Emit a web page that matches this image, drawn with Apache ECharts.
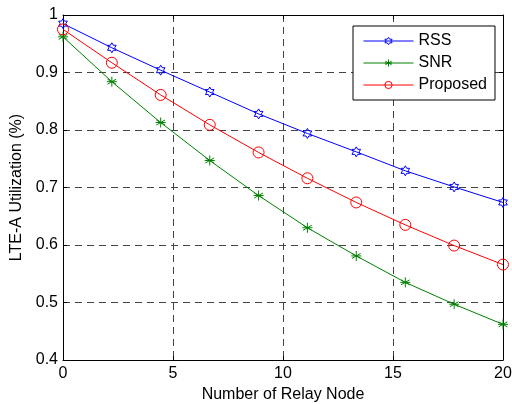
<!DOCTYPE html>
<html><head><meta charset="utf-8">
<script src="https://cdn.jsdelivr.net/npm/echarts@6/dist/echarts.min.js"></script>
<style>html,body{margin:0;padding:0;background:#fff}#c{width:512px;height:404px}</style>
</head><body><div id="c"></div>
<script>
const relayNodes = [0, 2.22, 4.44, 6.67, 8.89, 11.11, 13.33, 15.56, 17.78, 20];
const rss =      [0.985, 0.943, 0.904, 0.866, 0.828, 0.794, 0.762, 0.729, 0.701, 0.674];
const snr =      [0.962, 0.884, 0.813, 0.747, 0.686, 0.630, 0.581, 0.535, 0.497, 0.462];
const proposed = [0.975, 0.917, 0.861, 0.809, 0.761, 0.716, 0.674, 0.635, 0.599, 0.566];
const seriesNames = ['RSS', 'SNR', 'Proposed'];

const hexagram = 'path://M0,-10L2.89,-5L8.66,-5L5.77,0L8.66,5L2.89,5L0,10L-2.89,5L-8.66,5L-5.77,0L-8.66,-5L-2.89,-5Z';
const asterisk = 'path://M0,-10L0,10M-8.66,-5L8.66,5M-8.66,5L8.66,-5M-10,0L10,0';
const font = 'Liberation Sans, Arial, sans-serif';
const fs = 16;

function pairs(ys){ return relayNodes.map((x,i)=>[x, ys[i]]); }
function mk(name, ys, color, symbol, size){
  return {
    name, type:'line', data: pairs(ys), symbol, symbolSize: size, symbolKeepAspect: true,
    showAllSymbol: true,
    lineStyle:{color, width:1},
    itemStyle:{color:'rgba(255,255,255,0)', borderColor: color, borderWidth:1},
    emphasis:{disabled:true}, animation:false, z: 3
  };
}
const gridLine = {show:true, lineStyle:{color:'#444', type:[7,5], width:1}};
const chart = echarts.init(document.getElementById('c'));
chart.setOption({
  backgroundColor:'#fff',
  animation:false,
  grid:{left:63, right:9, top:15, bottom:44, containLabel:false, outerBoundsMode:'none'},
  legend:{
    data: seriesNames,
    orient:'vertical', left:353, top:26,
    padding:[7,8,7,10], itemWidth:50, itemHeight:9, itemGap:6,
    borderColor:'#000', borderWidth:1, backgroundColor:'#fff',
    lineStyle:{width:1},
    itemStyle:{color:'rgba(255,255,255,0)', borderWidth:1},
    textStyle:{fontFamily:font, fontSize:fs, color:'#000'},
    selectedMode:false
  },
  xAxis:[{
    type:'value', min:0, max:20, interval:5,
    name:'Number of Relay Node', nameLocation:'middle', nameGap:26,
    nameTextStyle:{fontFamily:font, fontSize:fs, color:'#000'},
    axisLine:{show:true, onZero:false, lineStyle:{color:'#000', width:1}},
    axisTick:{show:true, inside:true, length:4, lineStyle:{color:'#000'}},
    axisLabel:{fontFamily:font, fontSize:fs, color:'#000', margin:6},
    splitLine: gridLine
  },{
    type:'value', min:0, max:20, interval:5, position:'top',
    axisLine:{show:true, onZero:false, lineStyle:{color:'#000', width:1}},
    axisTick:{show:true, inside:true, length:4, lineStyle:{color:'#000'}},
    axisLabel:{show:false}, splitLine:{show:false}
  }],
  yAxis:[{
    type:'value', min:0.4, max:1, interval:0.1,
    name:'LTE-A Utilization (%)', nameLocation:'middle', nameGap:35,
    nameTextStyle:{fontFamily:font, fontSize:fs, color:'#000'},
    axisLine:{show:true, onZero:false, lineStyle:{color:'#000', width:1}},
    axisTick:{show:true, inside:true, length:4, lineStyle:{color:'#000'}},
    axisLabel:{fontFamily:font, fontSize:fs, color:'#000', margin:5,
      formatter: v => (Math.round(v*10)/10).toString()},
    splitLine: gridLine
  },{
    type:'value', min:0.4, max:1, interval:0.1, position:'right',
    axisLine:{show:true, onZero:false, lineStyle:{color:'#000', width:1}},
    axisTick:{show:true, inside:true, length:4, lineStyle:{color:'#000'}},
    axisLabel:{show:false}, splitLine:{show:false}
  }],
  series:[
    mk('RSS', rss, '#0000ff', hexagram, 10),
    mk('SNR', snr, '#008000', asterisk, 10),
    mk('Proposed', proposed, '#ff0000', 'circle', 11)
  ]
});
</script></body></html>
